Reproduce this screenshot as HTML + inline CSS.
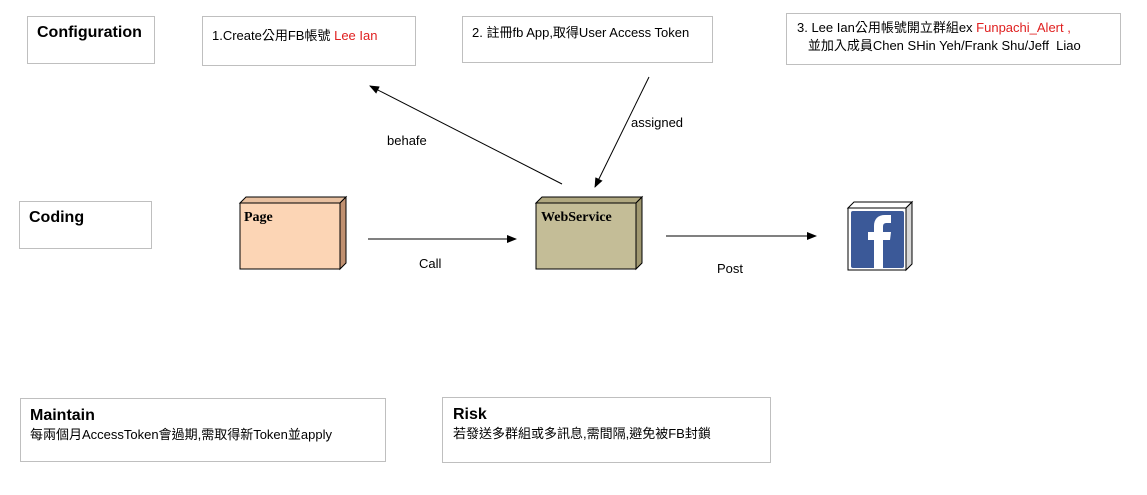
<!DOCTYPE html>
<html><head><meta charset="utf-8"><style>
body{margin:0;width:1147px;height:495px;background:#fff;overflow:hidden;position:relative;font-family:"Liberation Sans","Noto Sans CJK TC",sans-serif}
.b{position:absolute;border:1px solid #bfbfbf;box-sizing:border-box;font-size:13px;color:#000}
.t{position:absolute;font-size:13px}
</style></head><body>
<div class="b" style="left:27px;top:16px;width:128px;height:48px;padding:7px 0 0 9px;font-weight:bold;font-size:16px">Configuration</div>
<div class="b" style="left:202px;top:16px;width:214px;height:50px;padding:8px 0 0 9px">1.Create公用FB帳號 <span style="color:#e02020">Lee Ian</span></div>
<div class="b" style="left:462px;top:16px;width:251px;height:47px;padding:5px 0 0 9px">2. 註冊fb App,取得User Access Token</div>
<div class="b" style="left:786px;top:13px;width:335px;height:52px;padding:5px 0 0 10px;line-height:18px">3. Lee Ian公用帳號開立群組ex <span style="color:#e02020">Funpachi_Alert ,</span><br>&nbsp;&nbsp;&nbsp;並加入成員Chen SHin Yeh/Frank Shu/Jeff&nbsp; Liao</div>
<div class="b" style="left:19px;top:201px;width:133px;height:48px;padding:7px 0 0 9px;font-weight:bold;font-size:16px">Coding</div>
<div class="b" style="left:20px;top:398px;width:366px;height:64px;padding:7px 0 0 9px;line-height:19px"><b style="font-size:16px">Maintain</b><br>每兩個月AccessToken會過期,需取得新Token並apply</div>
<div class="b" style="left:442px;top:397px;width:329px;height:66px;padding:7px 0 0 10px;line-height:19px"><b style="font-size:16px">Risk</b><br>若發送多群組或多訊息,需間隔,避免被FB封鎖</div>
<svg width="1147" height="495" style="position:absolute;left:0;top:0">
<defs><marker id="a" markerWidth="10" markerHeight="8" refX="9" refY="4" orient="auto" markerUnits="userSpaceOnUse"><path d="M0,0L10,4L0,8z"/></marker></defs>
<g stroke="#000" stroke-width="1">
<polygon points="240,203 246,197 346,197 340,203" fill="#e8c0a0"/>
<polygon points="340,203 346,197 346,263 340,269" fill="#c09070"/>
<rect x="240" y="203" width="100" height="66" fill="#fcd5b5"/>
<polygon points="536,203 542,197 642,197 636,203" fill="#b0a880"/>
<polygon points="636,203 642,197 642,263 636,269" fill="#a09870"/>
<rect x="536" y="203" width="100" height="66" fill="#c4bd97"/>
<polygon points="848,208 854,202 912,202 906,208" fill="#fff"/>
<polygon points="906,208 912,202 912,264 906,270" fill="#d8d8d8"/>
<rect x="848" y="208" width="58" height="62" fill="#fff"/>
<line x1="368" y1="239" x2="516" y2="239" marker-end="url(#a)"/>
<line x1="666" y1="236" x2="816" y2="236" marker-end="url(#a)"/>
<line x1="562" y1="184" x2="370" y2="86" marker-end="url(#a)"/>
<line x1="649" y1="77" x2="595" y2="187" marker-end="url(#a)"/>
</g>
<rect x="851" y="211" width="53" height="57" rx="2" fill="#3b5998"/>
<path d="M874,268V240h-6v-8h6v-6c0-7 4-11 11-11h6v8h-4c-3,0-4,1-4,4v5h8l-1,8h-7v28z" fill="#fff"/>
<g font-family="Liberation Serif,serif" font-weight="bold" font-size="14"><text x="244" y="221">Page</text><text x="541" y="221">WebService</text></g>
<g font-size="13" font-family="Liberation Sans,sans-serif"><text x="419" y="268">Call</text><text x="717" y="273">Post</text><text x="387" y="145">behafe</text><text x="631" y="127">assigned</text></g>
</svg>
</body></html>
